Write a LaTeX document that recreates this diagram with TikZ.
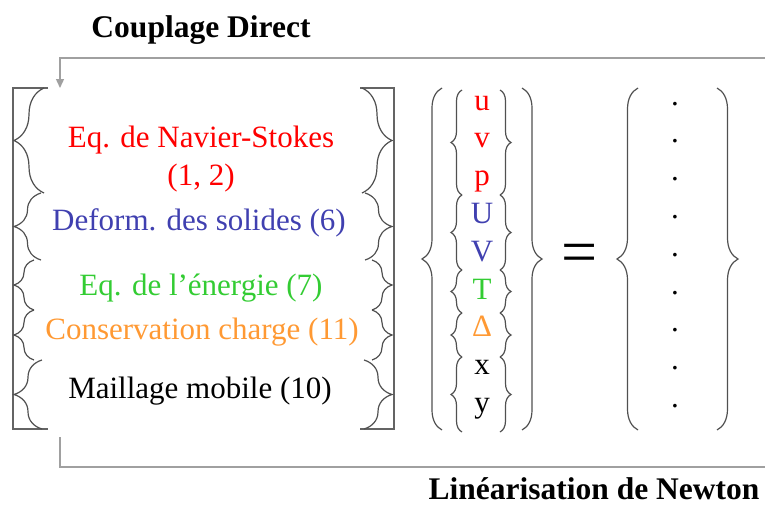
\documentclass[tikz,border=0pt]{standalone}
\usepackage{fontspec}
\setmainfont{Liberation Serif}
\usetikzlibrary{arrows.meta,decorations.pathreplacing}

\definecolor{eqred}{RGB}{255,0,0}
\definecolor{eqblue}{RGB}{64,64,176}
\definecolor{eqgreen}{RGB}{51,204,51}
\definecolor{eqorange}{RGB}{255,153,51}
\definecolor{bracegray}{RGB}{80,80,80}
\definecolor{squaregray}{RGB}{100,100,100}
\definecolor{loopgray}{RGB}{160,160,160}

\tikzset{
  eqtext/.style={anchor=base,inner sep=0pt,font=\fontsize{31}{38}\selectfont},
  title/.style={eqtext,font=\fontsize{31.5}{38}\selectfont\bfseries},
  curly/.style={draw=bracegray,line width=1.2pt,decorate,decoration={brace,amplitude=#1}},
  square/.style={draw=squaregray,line width=1.8pt},
  loop/.style={draw=loopgray,line width=1.4pt},
}

\begin{document}
\begin{tikzpicture}[x=1pt,y=-1pt]
\useasboundingbox (0,0) rectangle (765,507);

% titles
\node[title] (couplage) at (201,37) {Couplage Direct};
\node[title] (newton) at (594,499) {Linéarisation de Newton};

% feedback loops
\coordinate (topright) at (765,58);
\coordinate (topleft) at (60,58);
\coordinate (sysin) at (60,88);
\draw[loop,-{Triangle[width=8pt,length=9pt]}] (topright) -- (topleft) -- (sysin);
\coordinate (sysout) at (60,437);
\coordinate (botleft) at (60,467);
\coordinate (botright) at (765,467);
\draw[loop] (sysout) -- (botleft) -- (botright);

% square brackets
\draw[square] (48,88) -- (13,88) -- (13,429) -- (48,429);
\draw[square] (360,88) -- (394,88) -- (394,429) -- (360,429);

% equation braces
\foreach \ya/\yb/\amp in {88/193/30, 193/260/27, 260/310/20, 310/360/20, 360/429/28}{
  \draw[curly=\amp pt] (14+\amp,\yb) -- (14+\amp,\ya);
  \draw[curly=\amp pt] (392-\amp,\ya) -- (392-\amp,\yb);
}

% equations
\node[eqtext,text=eqred] (navier) at (201,147) {Eq. de Navier-Stokes};
\node[eqtext,text=eqred] (navierno) at (201,185) {(1, 2)};
\node[eqtext,text=eqblue] (solides) at (199,230) {Deform. des solides (6)};
\node[eqtext,text=eqgreen] (energie) at (201,295) {Eq. de l’énergie (7)};
\node[eqtext,text=eqorange] (charge) at (202,339) {Conservation charge (11)};
\node[eqtext] (maillage) at (200,398) {Maillage mobile (10)};

% unknowns
\foreach \v/\c [count=\i from 0] in {u/eqred, v/eqred, p/eqred, U/eqblue, V/eqblue, T/eqgreen, Δ/eqorange, x/black, y/black}
  \node[eqtext,text=\c] (var\i) at (482,110+37.8*\i) {\v};
\foreach \ya/\yb in {90/195, 195/270, 270/313, 313/357, 357/432}{
  \draw[curly=11pt] (462,\yb) -- (462,\ya);
  \draw[curly=11pt] (500,\ya) -- (500,\yb);
}
\draw[curly=20pt] (442,430) -- (442,88);
\draw[curly=20pt] (522,88) -- (522,430);

\node[eqtext,font=\fontsize{64}{64}\selectfont] (equal) at (580,273) {=};

% right-hand side
\draw[curly=21pt] (638,430) -- (638,88);
\draw[curly=21pt] (717,88) -- (717,430);
\foreach \i in {0,...,8}
  \node[eqtext] (dot\i) at (675,105+37.8*\i) {.};
\end{tikzpicture}
\end{document}
